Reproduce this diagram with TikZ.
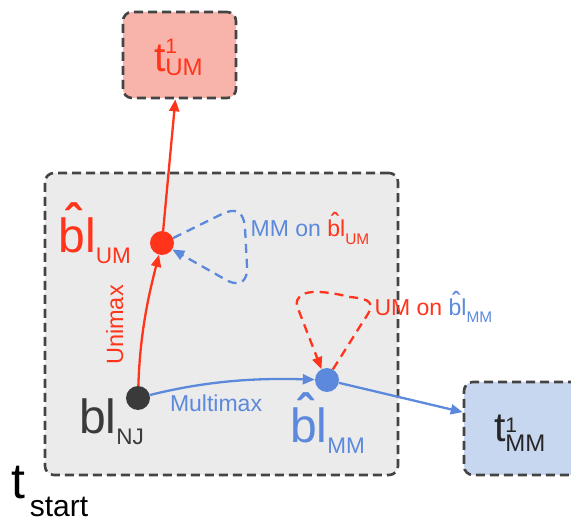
\documentclass[tikz,border=0pt]{standalone}
\usepackage{fontspec}
\setmainfont{Liberation Sans}
\usetikzlibrary{arrows.meta}
\definecolor{umred}{RGB}{255,52,26}
\definecolor{mmblue}{RGB}{92,137,220}
\definecolor{njdark}{RGB}{58,58,58}
\definecolor{framegray}{RGB}{68,68,68}
\definecolor{pinkfill}{RGB}{248,180,170}
\definecolor{bluefill}{RGB}{200,215,240}
\definecolor{grayfill}{RGB}{235,235,235}
\newcommand{\fsz}[1]{\fontsize{#1}{#1}\selectfont}
% "bl" with a circumflex set over it
\newcommand{\hatbl}{\ooalign{bl\cr\hidewidth\raisebox{0.3em}{\bfseries\char"02C6}\kern0.14em\hidewidth\cr}}
\begin{document}
\begin{tikzpicture}[x=1pt,y=-1pt,
  framebox/.style={draw=framegray, line width=2.6pt, dash pattern=on 9pt off 5pt,
    rounded corners=9pt, inner sep=0pt},
  dotnode/.style={circle, minimum size=24pt, inner sep=0pt},
  conn/.style={line width=2.3pt, -{Triangle[length=12pt,width=10pt]}},
  selfloop/.style={line width=2.3pt, dash pattern=on 9pt off 6pt,
    -{Triangle[length=12pt,width=10pt]}},
  lbl/.style={inner sep=0pt, outer sep=0pt, anchor=base west}]
\useasboundingbox (0,0) rectangle (571,521);
\clip (0,0) rectangle (571,521);

% frames
\node[framebox, fill=grayfill, minimum width=353pt, minimum height=302pt] (start) at (221.5,324) {};
\node[framebox, fill=pinkfill, minimum width=113pt, minimum height=86pt] (tum) at (179.5,55) {};
\node[framebox, fill=bluefill, minimum width=136pt, minimum height=93pt] (tmm) at (532,428.5) {};

% branch-length points
\node[dotnode, fill=njdark] (bnj) at (138,398) {};
\node[dotnode, fill=umred] (bum) at (162,243) {};
\node[dotnode, fill=mmblue] (bmm) at (327,380) {};

% optimisation steps
\draw[conn, umred] (bnj) .. controls (140,330) and (150,290) .. (bum);
\draw[conn, mmblue] (bnj) .. controls (210,380) and (260,378) .. (bmm);
\draw[conn, umred] (bum) -- (tum);
\draw[conn, mmblue] (bmm) -- (tmm);
\draw[selfloop, mmblue] (bum.24) -- (222,214) .. controls (236,207) and (244,212) .. (245,228)
  -- (247,266) .. controls (248,280) and (241,287) .. (228,281) -- (bum.-32);
\draw[selfloop, umred] (bmm.61) -- (364,320) .. controls (377,302) and (370,299) .. (350,297)
  .. controls (322,290) and (294,288) .. (297,306) -- (bmm.117);

% labels
\node[lbl, text=umred] (lum) at (58.5,253) {\fsz{48}\hatbl\raisebox{-11pt}{\fsz{22.5}UM}};
\node[lbl, text=mmblue] (lmm) at (290,443) {\fsz{48}\hatbl\raisebox{-11pt}{\fsz{22.5}MM}};
\node[lbl, text=njdark] (lnj) at (79,434) {\fsz{48}bl\raisebox{-11pt}{\fsz{22.5}NJ}};
\node[lbl, text=umred] (ltum) at (154,72) {\fsz{41}t\rlap{\raisebox{18.5pt}{\fsz{21}1}}\raisebox{-3.5pt}{\fsz{24}UM}};
\node[lbl, text=black!85] (ltmm) at (494,442) {\fsz{41}t\rlap{\raisebox{9pt}{\fsz{21}1}}\raisebox{-10pt}{\fsz{24}MM}};
\node[lbl, text=black] (ltst) at (12,499) {\fsz{50}t\kern4pt\raisebox{-18pt}{\fsz{30}start}};
\node[inner sep=0pt, anchor=base, rotate=90, text=umred] (lunimax) at (123,325) {\fsz{23.5}Unimax};
\node[lbl, text=mmblue] (lmulti) at (170,411.7) {\fsz{23}Multimax};
\node[lbl] (lmmon) at (250.7,236.7) {\fsz{23}\textcolor{mmblue}{MM on }\textcolor{umred}{\hatbl\raisebox{-8pt}{\fsz{15.4}UM}}};
\node[lbl] (lumon) at (374.5,315.7) {\fsz{23}\textcolor{umred}{UM on }\textcolor{mmblue}{\hatbl\raisebox{-6.5pt}{\fsz{15.4}MM}}};
\end{tikzpicture}
\end{document}
